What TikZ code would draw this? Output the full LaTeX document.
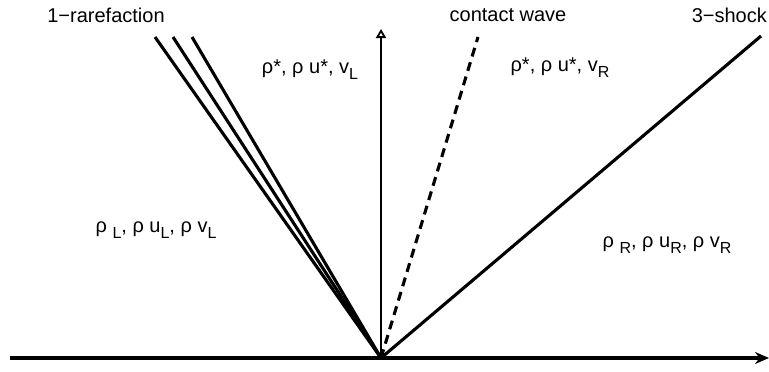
\documentclass[tikz,border=0pt]{standalone}
\usepackage{fontspec}
\setmainfont{Liberation Sans}
\usepackage{tikz}
\usetikzlibrary{positioning,arrows.meta}
\newcommand{\sbs}[1]{\raisebox{-0.55ex}{\fontsize{16}{16}\selectfont #1}}
\tikzset{
  wav/.style={line width=3.1pt},
  cwv/.style={line width=3.1pt,dash pattern=on 9pt off 6pt},
  lbl/.style={font=\fontsize{20}{23}\selectfont,inner sep=0pt},
  axr/.style={-{Stealth[length=14pt,width=12pt]},line width=3.1pt},
  tax/.style={-{Triangle[open,length=9pt,width=10pt,line width=1.8pt]},line width=2.2pt},
}
\begin{document}
\begin{tikzpicture}[x=1pt,y=-1pt]
  \useasboundingbox (0,0) rectangle (769,372);
  % origin and end points of the waves
  \coordinate (o) at (381,358);
  \coordinate (xl) at (10,358);
  \coordinate (xr) at (769,358);
  \coordinate (tt) at (381,29);
  \coordinate (r1) at (155,37);
  \coordinate (r2) at (173,37);
  \coordinate (r3) at (192,37);
  \coordinate (cw) at (478,37);
  \coordinate (sk) at (761,36);
  % axes
  \draw[axr] (xl) -- (xr);
  \draw[tax] (o) -- (tt);
  % waves
  \draw[wav] (o) -- (r1);
  \draw[wav] (o) -- (r2);
  \draw[wav] (o) -- (r3);
  \draw[cwv] (o) -- (cw);
  \draw[wav] (o) -- (sk);
  % labels
  \node[lbl] (lrf) at (106,15) {1−rarefaction};
  \node[lbl] (lcw) at (508,15) {contact wave};
  \node[lbl,anchor=east] (lsk) at (767,15) {3−shock};
  \node[lbl] (stl) at (310,70) {ρ*, ρ u*, v\sbs{L}};
  \node[lbl] (str) at (560,68) {ρ*, ρ u*, v\sbs{R}};
  \node[lbl] (stL) at (156,230) {ρ \sbs{L}, ρ u\sbs{L}, ρ v\sbs{L}};
  \node[lbl] (stR) at (667,245) {ρ \sbs{R}, ρ u\sbs{R}, ρ v\sbs{R}};
\end{tikzpicture}
\end{document}
